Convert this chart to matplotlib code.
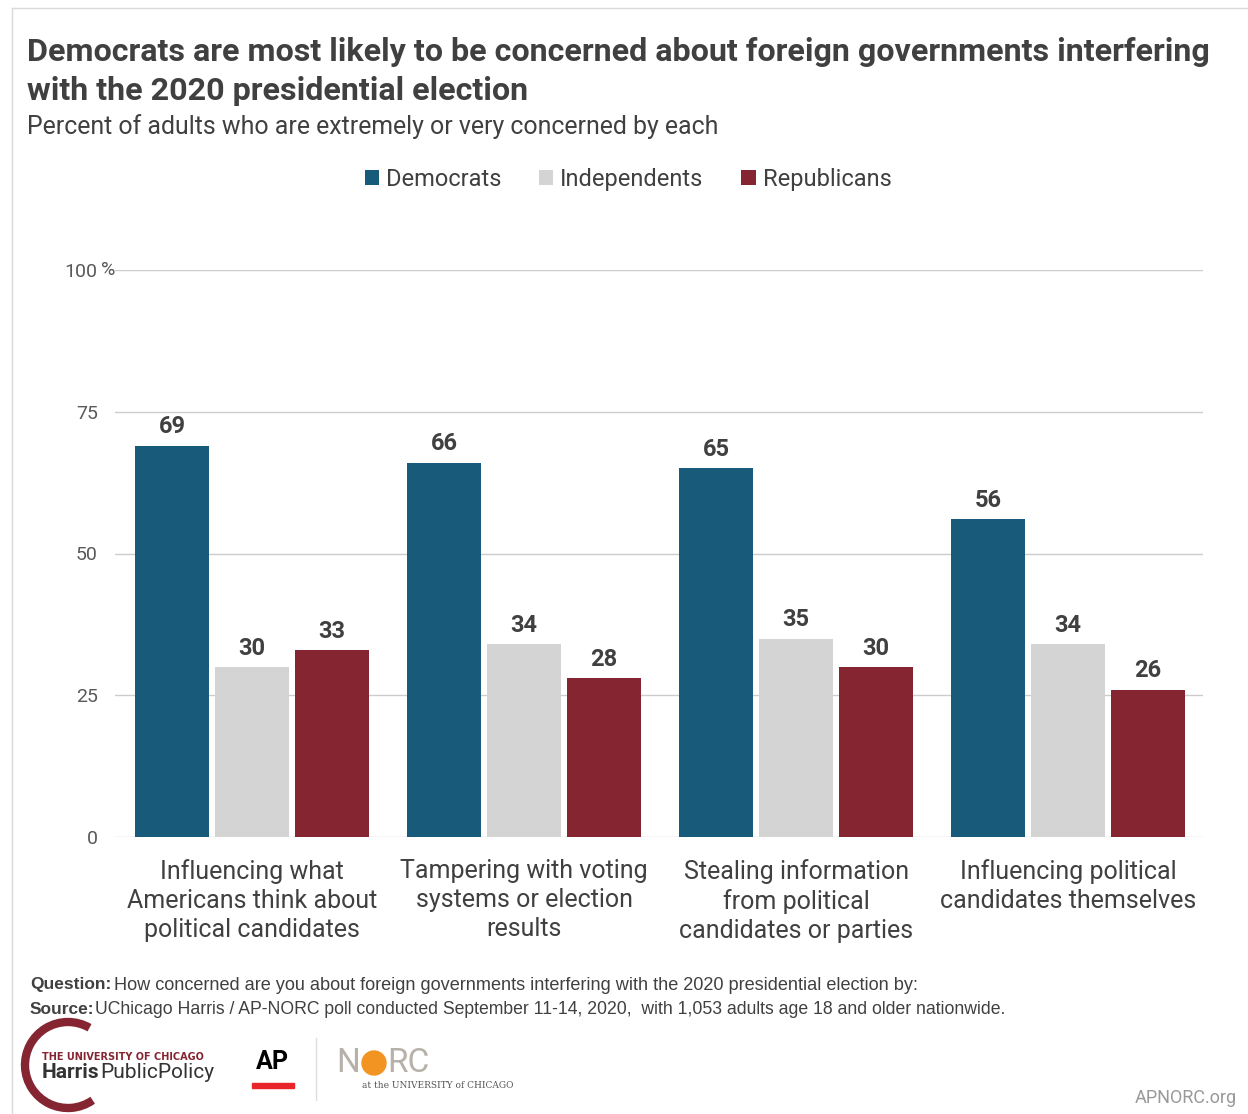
import numpy as np
import matplotlib
matplotlib.use("Agg")
import matplotlib.pyplot as plt
from matplotlib.patches import Rectangle, Arc, Circle
from matplotlib.lines import Line2D

plt.rcParams['font.family'] = ['Roboto', 'DejaVu Sans']

categories = [
    "Influencing what\nAmericans think about\npolitical candidates",
    "Tampering with voting\nsystems or election\nresults",
    "Stealing information\nfrom political\ncandidates or parties",
    "Influencing political\ncandidates themselves",
]
groups = ["Democrats", "Independents", "Republicans"]
democrats = [69, 66, 65, 56]
independents = [30, 34, 35, 34]
republicans = [33, 28, 30, 26]
yticks = [0, 25, 50, 75, 100]
ytick_labels = ["0", "25", "50", "75", "100"]

colors = ["#175a7a", "#d4d4d4", "#862532"]
text_dark = "#404040"
W, H = 1248, 1114


def fx(x):
    return x / W


def fy(y):
    return 1 - y / H


fig = plt.figure(figsize=(W / 100, H / 100), dpi=100)

# outer frame lines (left and top)
fig.add_artist(Line2D([fx(12), fx(12)], [fy(8), fy(1114)], color="#d9d9d9", lw=1))
fig.add_artist(Line2D([fx(12), fx(1248)], [fy(8), fy(8)], color="#d9d9d9", lw=1))

ax = fig.add_axes([fx(115), fy(837), fx(1203) - fx(115), (837 - 270) / H])

x = np.arange(len(categories))
width = 0.272
offset = 0.294
series = [democrats, independents, republicans]
for i, (name, vals) in enumerate(zip(groups, series)):
    pos = x + (i - 1) * offset
    bars = ax.bar(pos, vals, width, color=colors[i], label=name, zorder=3)
    for p, v in zip(pos, vals):
        ax.text(p, v + 1.3, str(v), ha="center", va="bottom", fontsize=17,
                fontweight="bold", color=text_dark)

ax.set_xlim(-0.504, 3.496)
ax.set_ylim(0, 100)
ax.set_yticks(yticks)
ax.set_yticklabels(ytick_labels)
ax.yaxis.grid(True, color="#cccccc", lw=1, zorder=0)
ax.set_axisbelow(True)
for s in ax.spines.values():
    s.set_visible(False)
ax.tick_params(axis="y", length=0, pad=12.5, labelsize=14, labelcolor="#595959")
ax.tick_params(axis="x", length=0, pad=16)
ax.set_xticks(x)
ax.set_xticklabels(categories, fontsize=18, color=text_dark, linespacing=1.26)
# percent sign after the top tick
ax.text(-0.504 - 14 / 272, 100, "%", ha="left", va="center", fontsize=14,
        color="#595959")

# titles
fig.text(fx(27), fy(52), "Democrats are most likely to be concerned about foreign governments interfering",
         fontsize=23.2, fontweight="bold", color=text_dark, va="center", ha="left")
fig.text(fx(27), fy(91), "with the 2020 presidential election",
         fontsize=23.2, fontweight="bold", color=text_dark, va="center", ha="left")
fig.text(fx(27), fy(127), "Percent of adults who are extremely or very concerned by each",
         fontsize=17.9, color=text_dark, va="center", ha="left")

# legend
leg = ax.legend(loc="center", bbox_to_anchor=(fx(628), fy(179)), bbox_transform=fig.transFigure,
                ncol=3, frameon=False, fontsize=17, handlelength=0.6, handleheight=0.6,
                handletextpad=0.3, columnspacing=1.6, labelcolor=text_dark)

# footer
foot_font = ['Liberation Sans', 'DejaVu Sans']
fig.text(fx(30), fy(985), "Question:", fontsize=12.5, fontweight="bold", family=foot_font,
         color=text_dark, va="center")
fig.text(fx(114), fy(985), "How concerned are you about foreign governments interfering with the 2020 presidential election by:",
         fontsize=13.1, family=foot_font, color=text_dark, va="center")
fig.text(fx(30), fy(1009), "Source:", fontsize=12.5, fontweight="bold", family=foot_font,
         color=text_dark, va="center")
fig.text(fx(95), fy(1009), "UChicago Harris / AP-NORC poll conducted September 11-14, 2020,  with 1,053 adults age 18 and older nationwide.",
         fontsize=12.7, family=foot_font, color=text_dark, va="center")

# logos (approximate)
lax = fig.add_axes([0, 0, 1, 1], facecolor="none")
lax.set_xlim(0, W)
lax.set_ylim(H, 0)
lax.axis("off")
lax.add_patch(Arc((68, 1065), 86, 86, theta1=55, theta2=300, color="#862532", lw=6))
lax.text(42, 1057, "THE UNIVERSITY OF CHICAGO", fontsize=7, fontweight="bold",
         family="DejaVu Sans", color="#862532", va="center")
lax.text(42, 1073, "Harris", fontsize=15, fontweight="bold", color="#333333", va="center")
lax.text(100, 1073, "PublicPolicy", fontsize=15, color="#333333", va="center")
lax.text(272, 1062, "AP", fontsize=18, fontweight="bold", color="black", va="center", ha="center")
lax.add_patch(Rectangle((252, 1083), 42, 5, color="#e8262a"))
lax.plot([316, 316], [1038, 1100], color="#dddddd", lw=1)
lax.text(336, 1063, "N", fontsize=24, color="#b7b1a9", va="center")
lax.add_patch(Circle((374, 1063), 12, color="#f29422"))
lax.text(387, 1063, "RC", fontsize=24, color="#b7b1a9", va="center")
lax.text(362, 1085, "at the UNIVERSITY of CHICAGO", fontsize=6.5, family="DejaVu Serif",
         color="#555555", va="center")
lax.text(1237, 1098, "APNORC.org", fontsize=13, color="#999999", va="center", ha="right")

fig.savefig("out.png", dpi=100)
